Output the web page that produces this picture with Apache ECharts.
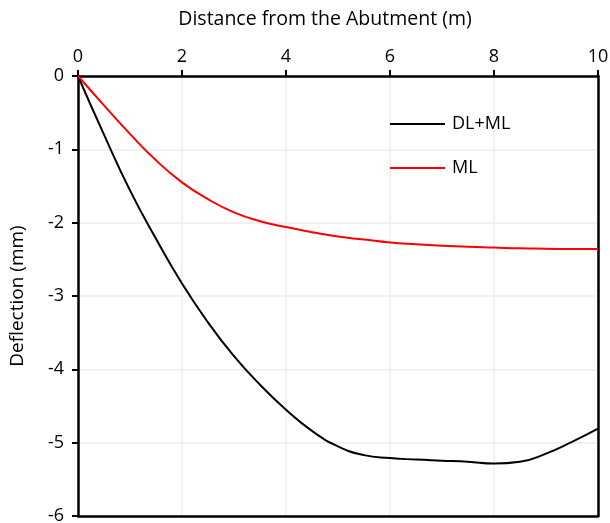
<!DOCTYPE html>
<html>
<head>
<meta charset="utf-8">
<script src="https://cdn.jsdelivr.net/npm/echarts@6/dist/echarts.min.js"></script>
<style>html,body{margin:0;padding:0;background:#fff}#c{width:610px;height:523px}</style>
</head>
<body>
<div id="c"></div>
<script>
const distance = [0,0.5,1,1.5,2,2.5,3,3.5,4,4.5,5,5.5,6,6.5,7,7.5,8,8.5,9,9.5,10];
const dlml = [0,-0.80,-1.56,-2.22,-2.83,-3.36,-3.82,-4.21,-4.55,-4.84,-5.05,-5.17,-5.21,-5.23,-5.245,-5.26,-5.285,-5.26,-5.15,-4.99,-4.81];
const ml = [0,-0.40,-0.79,-1.15,-1.45,-1.68,-1.86,-1.98,-2.06,-2.13,-2.19,-2.23,-2.27,-2.295,-2.315,-2.33,-2.34,-2.35,-2.355,-2.36,-2.36];
const seriesNames = ['DL+ML','ML'];
const xTitle = 'Distance from the Abutment (m)';
const yTitle = 'Deflection (mm)';

const font = 'Open Sans';
const chart = echarts.init(document.getElementById('c'));
const pairs = (ys) => distance.map((x,i)=>[x,ys[i]]);
const borderAxis = {show:true,onZero:false,lineStyle:{color:'#000',width:2.5}};
chart.setOption({
  animation:false,
  textStyle:{fontFamily:font},
  grid:{left:78,top:76,right:12,bottom:7,containLabel:false,outerBoundsMode:'none'},
  legend:{
    orient:'vertical', left:390, top:115, padding:0, itemGap:26, itemWidth:55, itemHeight:2,
    textStyle:{fontFamily:font,fontSize:18,color:'#000',padding:[0,0,0,2]},
    data:[{name:seriesNames[0],icon:'rect'},{name:seriesNames[1],icon:'rect'}]
  },
  xAxis:[{
    type:'value', position:'top', min:0, max:10, interval:2,
    name:xTitle, nameLocation:'middle', nameGap:47,
    nameTextStyle:{fontFamily:font,fontSize:19.5,color:'#000',padding:[0,26,0,0]},
    axisLine:borderAxis,
    axisTick:{show:true,inside:false,length:6,lineStyle:{color:'#000',width:2}},
    axisLabel:{fontFamily:font,fontSize:18,color:'#000',margin:10},
    splitLine:{show:true,lineStyle:{color:'#ececec',width:1.5}}
  },{
    type:'value', position:'bottom', min:0, max:10, interval:2,
    axisLine:borderAxis, axisTick:{show:false}, axisLabel:{show:false}, splitLine:{show:false}
  }],
  yAxis:[{
    type:'value', min:-6, max:0, interval:1,
    name:yTitle, nameLocation:'middle', nameGap:51, nameRotate:90,
    nameTextStyle:{fontFamily:font,fontSize:19,color:'#000'},
    axisLine:borderAxis,
    axisTick:{show:true,inside:false,length:6,lineStyle:{color:'#000',width:2}},
    axisLabel:{fontFamily:font,fontSize:18,color:'#000',margin:14},
    splitLine:{show:true,lineStyle:{color:'#ececec',width:1.5}}
  },{
    type:'value', position:'right', min:-6, max:0, interval:1,
    axisLine:borderAxis, axisTick:{show:false}, axisLabel:{show:false}, splitLine:{show:false}
  }],
  series:[
    {name:seriesNames[0],type:'line',data:pairs(dlml),smooth:0.5,showSymbol:false,symbol:'none',lineStyle:{color:'#000',width:2},itemStyle:{color:'#000'}},
    {name:seriesNames[1],type:'line',data:pairs(ml),smooth:0.5,showSymbol:false,symbol:'none',lineStyle:{color:'#ff0000',width:2},itemStyle:{color:'#ff0000'}}
  ]
});
</script>
</body>
</html>
